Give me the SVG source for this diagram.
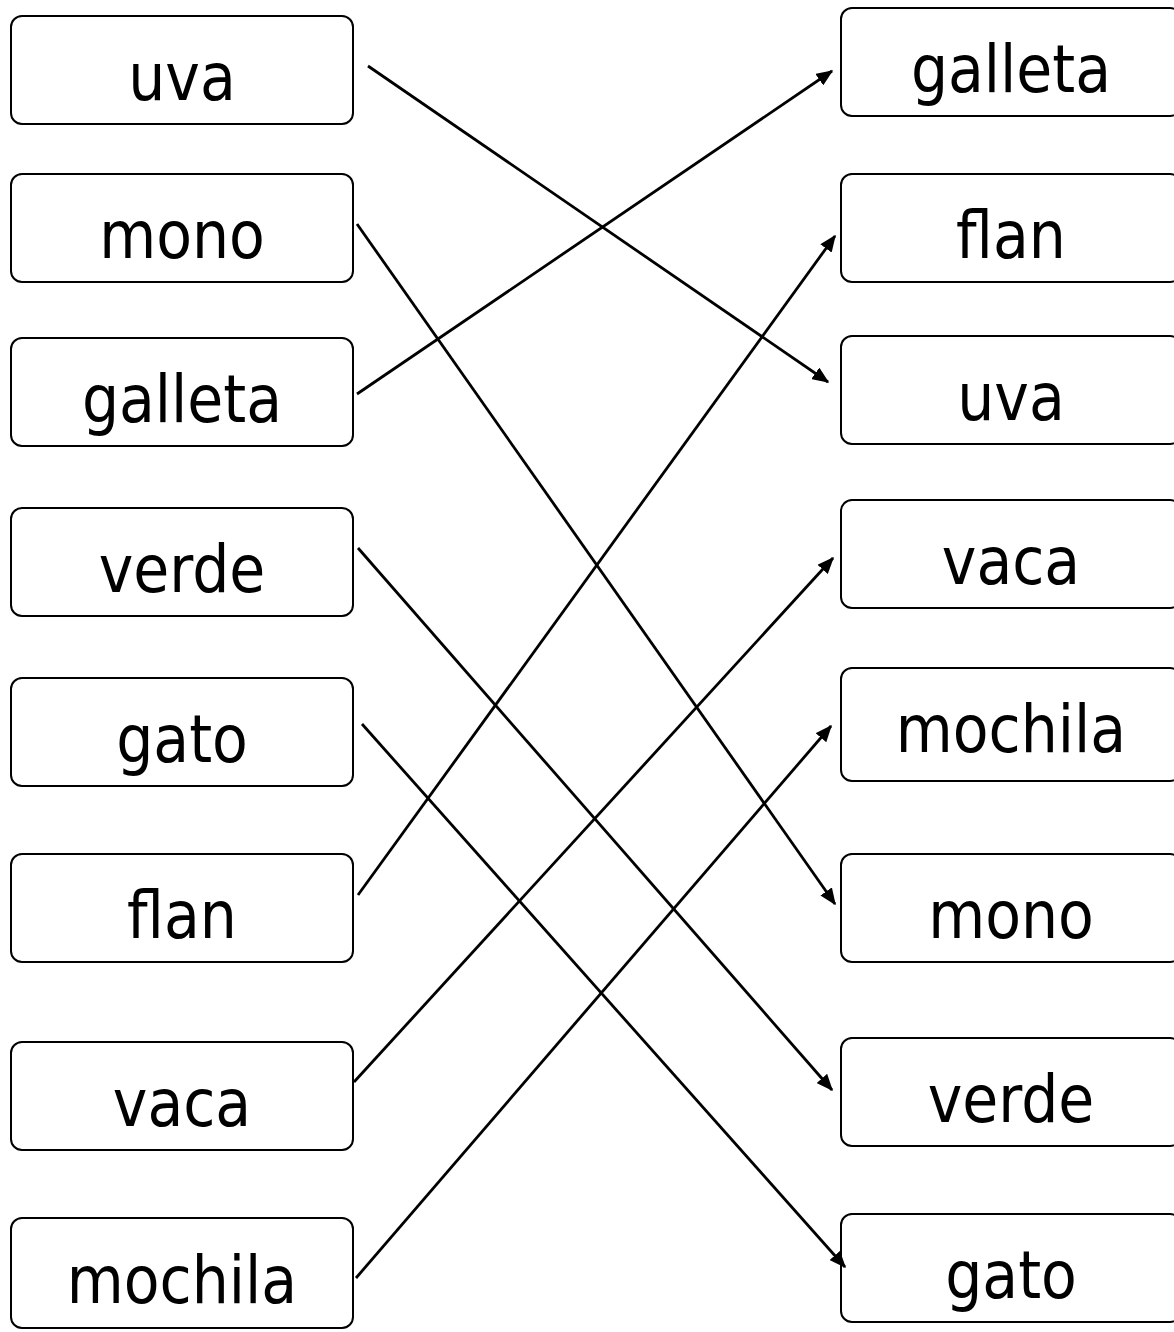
<svg xmlns="http://www.w3.org/2000/svg" width="1174" height="1332" viewBox="0 0 1174 1332">
<style>
.box{fill:#fff;stroke:#000;stroke-width:2}
.lbl{font-family:"DejaVu Sans Condensed","DejaVu Sans",sans-serif;font-size:65px;fill:#000;text-anchor:middle}
.con{stroke:#000;stroke-width:2.8;fill:none;marker-end:url(#ah)}
</style>
<defs>
<marker id="ah" markerWidth="6" markerHeight="5" refX="5.5" refY="2.5" orient="auto" markerUnits="strokeWidth">
<path d="M0,0 L6,2.5 L0,5 Z" fill="#000"/>
</marker>
</defs>
<rect width="1174" height="1332" fill="#fff"/>
<g id="l-uva"><rect class="box" x="11" y="16" width="342" height="108" rx="11"/><text class="lbl" x="182" y="100">uva</text></g>
<g id="l-mono"><rect class="box" x="11" y="174" width="342" height="108" rx="11"/><text class="lbl" x="182" y="258">mono</text></g>
<g id="l-galleta"><rect class="box" x="11" y="338" width="342" height="108" rx="11"/><text class="lbl" x="182" y="422">galleta</text></g>
<g id="l-verde"><rect class="box" x="11" y="508" width="342" height="108" rx="11"/><text class="lbl" x="182" y="592">verde</text></g>
<g id="l-gato"><rect class="box" x="11" y="678" width="342" height="108" rx="11"/><text class="lbl" x="182" y="762">gato</text></g>
<g id="l-flan"><rect class="box" x="11" y="854" width="342" height="108" rx="11"/><text class="lbl" x="182" y="938">flan</text></g>
<g id="l-vaca"><rect class="box" x="11" y="1042" width="342" height="108" rx="11"/><text class="lbl" x="182" y="1126">vaca</text></g>
<g id="l-mochila"><rect class="box" x="11" y="1218" width="342" height="110" rx="11"/><text class="lbl" x="182" y="1303">mochila</text></g>
<g id="r-galleta"><rect class="box" x="841" y="8" width="340" height="108" rx="11"/><text class="lbl" x="1011" y="92">galleta</text></g>
<g id="r-flan"><rect class="box" x="841" y="174" width="340" height="108" rx="11"/><text class="lbl" x="1011" y="258">flan</text></g>
<g id="r-uva"><rect class="box" x="841" y="336" width="340" height="108" rx="11"/><text class="lbl" x="1011" y="420">uva</text></g>
<g id="r-vaca"><rect class="box" x="841" y="500" width="340" height="108" rx="11"/><text class="lbl" x="1011" y="584">vaca</text></g>
<g id="r-mochila"><rect class="box" x="841" y="668" width="340" height="113" rx="11"/><text class="lbl" x="1011" y="752">mochila</text></g>
<g id="r-mono"><rect class="box" x="841" y="854" width="340" height="108" rx="11"/><text class="lbl" x="1011" y="938">mono</text></g>
<g id="r-verde"><rect class="box" x="841" y="1038" width="340" height="108" rx="11"/><text class="lbl" x="1011" y="1122">verde</text></g>
<g id="r-gato"><rect class="box" x="841" y="1214" width="340" height="108" rx="11"/><text class="lbl" x="1011" y="1298">gato</text></g>
<g id="connectors">
<line class="con" x1="368" y1="66" x2="828" y2="382"/>
<line class="con" x1="357" y1="224" x2="835" y2="904"/>
<line class="con" x1="357" y1="394" x2="832" y2="71"/>
<line class="con" x1="358" y1="548" x2="832" y2="1090"/>
<line class="con" x1="362" y1="724" x2="845" y2="1267"/>
<line class="con" x1="358" y1="895" x2="835" y2="236"/>
<line class="con" x1="354" y1="1082" x2="833" y2="558"/>
<line class="con" x1="356" y1="1278" x2="831" y2="726"/>
</g>
</svg>
